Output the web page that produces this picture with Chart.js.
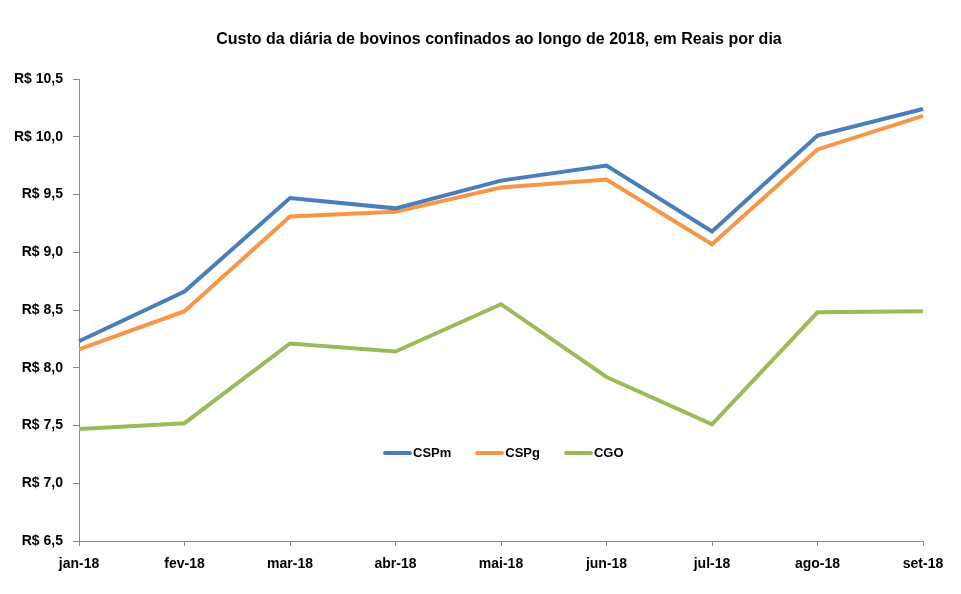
<!DOCTYPE html>
<html>
<head>
  <meta charset="UTF-8">
  <title>Custo da diária de bovinos confinados</title>
  <script src="https://cdn.jsdelivr.net/npm/chart.js"></script>
  <style>
    body {
      margin: 0;
      background: #fff;
      font-family: 'Liberation Sans', Arial, sans-serif;
    }
    .wrap {
      position: relative;
      width: 961px;
      height: 594px;
    }
    .title {
      position: absolute;
      left: 0;
      width: 998px;
      top: 30px;
      text-align: center;
      font-weight: bold;
      font-size: 16px;
      color: #000;
    }
    .legend {
      position: absolute;
      left: 383px;
      top: 445px;
      display: flex;
      font-weight: bold;
      font-size: 13px;
      color: #000;
    }
    .legend span {
      display: flex;
      align-items: center;
      margin-right: 24px;
    }
    .legend i {
      display: inline-block;
      width: 29px;
      height: 4px;
      border-radius: 2px;
      margin-right: 1px;
    }
  </style>
</head>
<body>
  <div class="wrap">
    <canvas id="chart" width="961" height="594"></canvas>
    <div class="title">Custo da diária de bovinos confinados ao longo de 2018, em Reais por dia</div>
    <div class="legend" id="legend"></div>
  </div>

  <script>
    const months = ['jan-18', 'fev-18', 'mar-18', 'abr-18', 'mai-18', 'jun-18', 'jul-18', 'ago-18', 'set-18'];
    const cspm = [8.23, 8.66, 9.47, 9.38, 9.62, 9.75, 9.18, 10.01, 10.24];
    const cspg = [8.16, 8.49, 9.31, 9.35, 9.56, 9.63, 9.07, 9.89, 10.18];
    const cgo = [7.47, 7.52, 8.21, 8.14, 8.55, 7.92, 7.51, 8.48, 8.49];

    const seriesNames = ['CSPm', 'CSPg', 'CGO'];
    const seriesColors = ['#4A7EBB', '#F79646', '#9BBB59'];
    const seriesData = [cspm, cspg, cgo];

    const axisColor = '#868686';
    const tickFont = { family: "'Liberation Sans', Arial, sans-serif", size: 14, weight: 'bold' };

    new Chart(document.getElementById('chart'), {
      type: 'line',
      data: {
        labels: months,
        datasets: seriesNames.map((name, i) => ({
          label: name,
          data: seriesData[i],
          borderColor: seriesColors[i],
          backgroundColor: seriesColors[i],
          borderWidth: 4,
          pointRadius: 0,
          tension: 0,
          fill: false
        }))
      },
      options: {
        responsive: false,
        animation: false,
        layout: { padding: { left: 0, right: 38, top: 79, bottom: 0 } },
        plugins: {
          legend: { display: false },
          tooltip: { enabled: false },
          title: { display: false }
        },
        scales: {
          x: {
            offset: false,
            grid: { drawOnChartArea: false, color: axisColor, tickLength: 5 },
            border: { color: axisColor, width: 1 },
            ticks: { color: '#000', font: tickFont, maxRotation: 0, padding: 10 },
            afterFit: s => { s.height = 53; }
          },
          y: {
            min: 6.5,
            max: 10.5,
            grid: { drawOnChartArea: false, color: axisColor, tickLength: 6 },
            border: { color: axisColor, width: 1 },
            ticks: {
              stepSize: 0.5,
              color: '#000',
              font: tickFont,
              padding: 10,
              callback: v => 'R$ ' + v.toFixed(1).replace('.', ',')
            },
            afterFit: s => { s.width = 79; }
          }
        }
      }
    });

    const legend = document.getElementById('legend');
    seriesNames.forEach((name, i) => {
      const item = document.createElement('span');
      const mark = document.createElement('i');
      mark.style.background = seriesColors[i];
      item.appendChild(mark);
      item.appendChild(document.createTextNode(name));
      legend.appendChild(item);
    });
  </script>
</body>
</html>
